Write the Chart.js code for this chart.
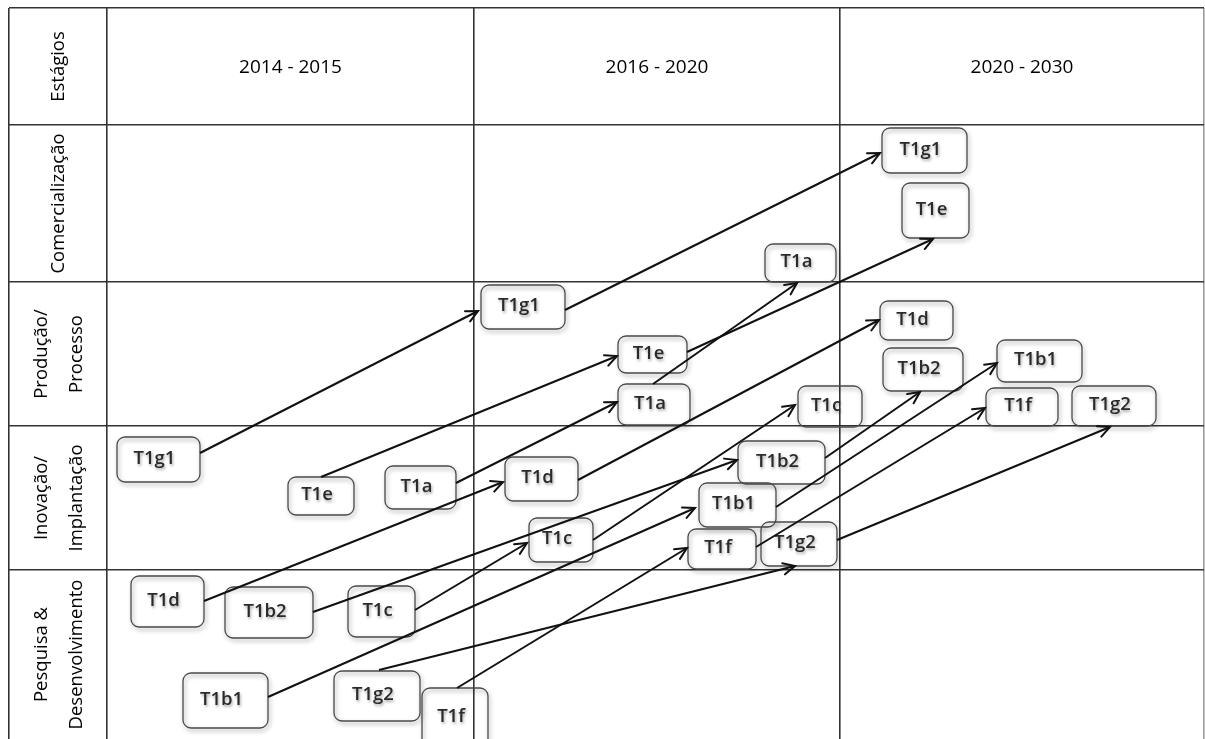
<!DOCTYPE html>
<html lang="pt">
<head>
  <meta charset="UTF-8">
  <title>Roadmap T1</title>
  <script src="https://cdn.jsdelivr.net/npm/chart.js"></script>
  <style>
    html, body {
      margin: 0;
      padding: 0;
      background: #fff;
    }
    #roadmap {
      display: block;
    }
  </style>
</head>
<body>
  <canvas id="roadmap" width="1205" height="739"></canvas>

  <script>
    // table: column / row boundaries and their titles
    const colEdges = [9, 107, 474, 840, 1204];
    const rowEdges = [8, 125, 282, 426, 570];
    const periods = ['2014 - 2015', '2016 - 2020', '2020 - 2030'];
    const stages = [
      ['Estágios'],
      ['Comercialização'],
      ['Produção/', 'Processo'],
      ['Inovação/', 'Implantação'],
      ['Pesquisa &', 'Desenvolvimento']
    ];

    // technology boxes (centre of each box)
    const boxLabels = ['T1g1', 'T1e', 'T1a',
      'T1g1', 'T1e', 'T1a', 'T1c', 'T1d', 'T1b2', 'T1b1', 'T1f', 'T1g2',
      'T1g1', 'T1e', 'T1a', 'T1d', 'T1b2', 'T1b1', 'T1c', 'T1f', 'T1g2',
      'T1d', 'T1b2', 'T1c', 'T1b1', 'T1g2', 'T1f'];
    const boxX = [924.5, 935.5, 800.5,
      523, 652.5, 654, 830, 916.5, 923, 1039.5, 1022, 1114,
      158.5, 321, 420.5, 541.5, 781.5, 737.5, 561, 722, 799,
      167.5, 269, 381.5, 225.5, 377, 455];
    const boxY = [150.5, 210.5, 263,
      307, 354.5, 404.5, 406.5, 320.5, 369.5, 361, 407, 406,
      459.5, 496, 487.5, 479, 462.5, 505, 540, 549, 544,
      601.5, 612.5, 611.5, 700.5, 696, 718];

    // box sizes (layout)
    const boxW = [85, 67, 71,
      84, 69, 72, 64, 73, 80, 85, 72, 84,
      83, 66, 71, 73, 87, 77, 64, 68, 76,
      73, 88, 67, 85, 86, 66];
    const boxH = [45, 55, 38,
      44, 37, 41, 41, 39, 43, 42, 38, 40,
      45, 38, 43, 44, 43, 44, 44, 40, 44,
      51, 51, 51, 55, 50, 60];

    // arrows: start point -> arrow tip
    const arrowFromX = [200, 565, 321, 687, 456, 653, 204, 578, 313, 825, 415, 593, 268, 776, 379, 837, 457, 756];
    const arrowFromY = [453, 310, 477, 352, 483, 384, 601, 480, 612, 458, 610, 540, 697, 507, 670, 540, 688, 547];
    const arrowToX = [478, 880, 617, 933, 617, 797, 503, 879, 737, 920, 527, 795, 695, 997, 795, 1110, 687, 985];
    const arrowToY = [311, 153, 356, 239, 402, 283, 482, 320, 460, 392, 543, 405, 508, 363, 566, 427, 548, 408];

    const ink = '#000';
    const gridInk = '#333';
    const font = '"Open Sans", "Noto Sans", sans-serif';

    const arrowSets = arrowFromX.map((fx, i) => ({
      type: 'scatter',
      showLine: true,
      data: [{ x: fx, y: arrowFromY[i] }, { x: arrowToX[i], y: arrowToY[i] }],
      borderColor: '#111',
      borderWidth: 2,
      pointRadius: 0,
      fill: false
    }));

    const boxSet = {
      type: 'scatter',
      data: boxX.map((bx, i) => ({ x: bx, y: boxY[i] })),
      pointRadius: 0,
      showLine: false
    };

    const roadmapPlugin = {
      id: 'roadmap',
      beforeDatasetsDraw(chart) {
        const { ctx, scales: { x, y } } = chart;
        const pts = chart.getDatasetMeta(chart.data.datasets.length - 1).data;
        ctx.save();
        ctx.font = '600 18.5px ' + font;
        ctx.textAlign = 'center';
        ctx.textBaseline = 'middle';
        pts.forEach((p, i) => {
          const w = x.getPixelForValue(boxW[i]) - x.getPixelForValue(0);
          const h = y.getPixelForValue(boxH[i]) - y.getPixelForValue(0);
          ctx.shadowColor = 'rgba(0,0,0,0.4)';
          ctx.shadowBlur = 4;
          ctx.shadowOffsetX = 1.5;
          ctx.shadowOffsetY = 2.5;
          ctx.beginPath();
          ctx.roundRect(p.x - w / 2, p.y - h / 2, w, h, 8);
          ctx.strokeStyle = '#4a4a4a';
          ctx.lineWidth = 1.3;
          ctx.stroke();
          ctx.shadowColor = 'rgba(0,0,0,0.35)';
          ctx.shadowBlur = 3;
          ctx.shadowOffsetX = 1;
          ctx.shadowOffsetY = 2;
          ctx.fillStyle = '#2a2a2a';
          ctx.fillText(boxLabels[i], p.x - 4, p.y - 1);
        });
        ctx.restore();
      },
      afterDatasetsDraw(chart) {
        const { ctx, scales: { x, y } } = chart;
        ctx.save();
        // arrow heads
        ctx.strokeStyle = '#111';
        ctx.lineWidth = 2;
        ctx.lineCap = 'round';
        arrowSets.forEach((ds, i) => {
          const pts = chart.getDatasetMeta(i).data;
          const a = pts[0], b = pts[1];
          const ang = Math.atan2(b.y - a.y, b.x - a.x);
          const len = 13, spread = 0.45;
          ctx.beginPath();
          ctx.moveTo(b.x - len * Math.cos(ang - spread), b.y - len * Math.sin(ang - spread));
          ctx.lineTo(b.x, b.y);
          ctx.lineTo(b.x - len * Math.cos(ang + spread), b.y - len * Math.sin(ang + spread));
          ctx.stroke();
        });

        // column headers
        ctx.fillStyle = ink;
        ctx.textAlign = 'center';
        ctx.textBaseline = 'middle';
        ctx.font = '19px ' + font;
        const hy = (y.getPixelForValue(rowEdges[0]) + y.getPixelForValue(rowEdges[1])) / 2;
        periods.forEach((p, i) => {
          const cx = (x.getPixelForValue(colEdges[i + 1]) + x.getPixelForValue(colEdges[i + 2])) / 2;
          ctx.fillText(p, cx, hy + 1);
        });

        // stage names, written bottom to top
        ctx.font = '18.5px ' + font;
        const lx = (x.getPixelForValue(colEdges[0]) + x.getPixelForValue(colEdges[1])) / 2;
        stages.forEach((lines, i) => {
          const top = y.getPixelForValue(rowEdges[i]);
          const bot = i + 1 < rowEdges.length ? y.getPixelForValue(rowEdges[i + 1]) : y.getPixelForValue(y.max);
          const cy = (top + bot) / 2;
          const pitch = 35;
          lines.forEach((txt, j) => {
            const off = (j - (lines.length - 1) / 2) * pitch;
            ctx.save();
            ctx.translate(lx + off + 1, cy);
            ctx.rotate(-Math.PI / 2);
            ctx.fillText(txt, 0, 0);
            ctx.restore();
          });
        });
        ctx.restore();
      }
    };

    new Chart(document.getElementById('roadmap'), {
      type: 'scatter',
      data: { datasets: [...arrowSets, boxSet] },
      options: {
        responsive: false,
        animation: false,
        devicePixelRatio: 1,
        events: [],
        layout: { padding: { left: 9, top: 8, right: 1, bottom: 0 } },
        plugins: {
          legend: { display: false },
          tooltip: { enabled: false }
        },
        scales: {
          x: {
            type: 'linear',
            min: 9,
            max: 1204,
            z: 1,
            afterBuildTicks: s => { s.ticks = colEdges.map(v => ({ value: v })); },
            afterFit: s => { s.height = 0; },
            ticks: { display: false },
            border: { display: false },
            grid: {
              drawTicks: false,
              lineWidth: 1.6,
              color: c => c.index === colEdges.length - 1 ? '#9a9a9a' : gridInk
            }
          },
          y: {
            type: 'linear',
            min: 8,
            max: 739,
            reverse: true,
            z: 1,
            afterBuildTicks: s => { s.ticks = rowEdges.map(v => ({ value: v })); },
            afterFit: s => { s.width = 0; },
            ticks: { display: false },
            border: { display: false },
            grid: {
              drawTicks: false,
              lineWidth: 1.6,
              color: gridInk
            }
          }
        }
      },
      plugins: [roadmapPlugin]
    });
  </script>
</body>
</html>
